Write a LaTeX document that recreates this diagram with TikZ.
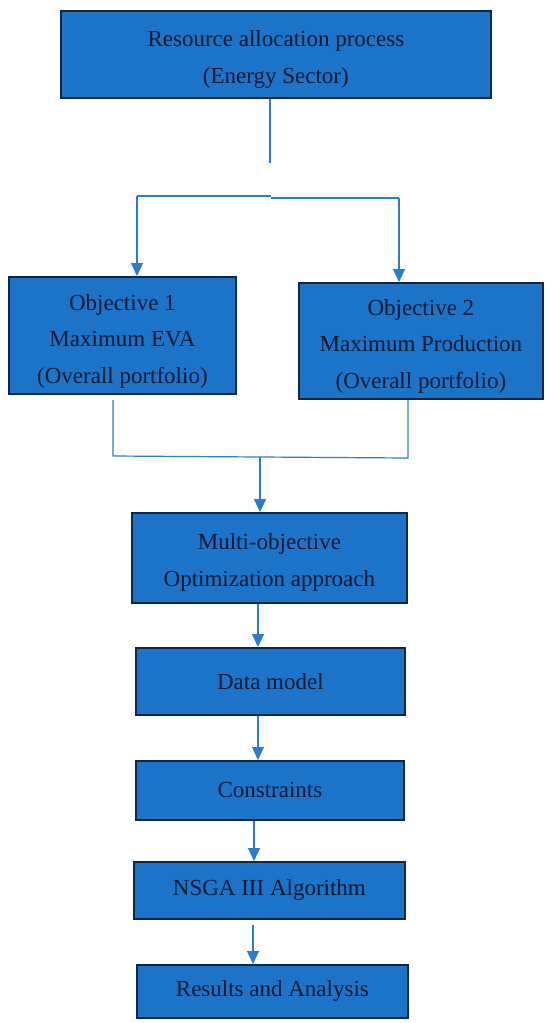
\documentclass[tikz,border=0pt]{standalone}
\usepackage{fontspec}
\setmainfont{Liberation Serif}
\usetikzlibrary{arrows.meta}
\definecolor{boxfill}{HTML}{1B74C8}
\definecolor{boxedge}{HTML}{0F2744}
\definecolor{txt}{HTML}{0A1830}
\definecolor{wire}{HTML}{2B7BD0}
\newcommand{\tallrule}[1]{\rule{0pt}{#1}}
\tikzset{
  box/.style={draw=boxedge, line width=1.8pt, fill=boxfill, text=txt, align=center,
    font=\fontsize{23}{36.5}\selectfont, inner sep=0pt, anchor=north west},
  wireline/.style={draw=wire, line width=1.2pt},
  wirearrow/.style={wireline, -{Triangle[length=13pt,width=12pt]}},
}
\begin{document}
\begin{tikzpicture}[x=1pt,y=-1pt]
\useasboundingbox (0,0) rectangle (550,1023);
% boxes
\node[box, minimum width=430pt, minimum height=87pt] (top) at (60,10) {\tallrule{26pt}Resource allocation process\\(Energy Sector)};
\node[box, minimum width=227pt, minimum height=117pt] (o1) at (8,276) {\tallrule{28pt}Objective 1\\Maximum EVA\\(Overall portfolio)};
\node[box, minimum width=244pt, minimum height=116pt] (o2) at (298,282) {\tallrule{27pt}Objective 2\\Maximum Production\\(Overall portfolio)};
\node[box, minimum width=275pt, minimum height=90pt] (mo) at (131,512) {\tallrule{25pt}Multi-objective\\Optimization approach};
\node[box, minimum width=269pt, minimum height=67pt] (dm) at (135,647) {Data model};
\node[box, minimum width=268pt, minimum height=59pt] (cs) at (135,760) {Constraints};
\node[box, minimum width=271pt, minimum height=57pt] (ns) at (133,861) {NSGA III Algorithm};
\node[box, minimum width=271pt, minimum height=53pt] (ra) at (136,964) {Results and Analysis};
% split coordinates
\coordinate (t1) at (270,163);
\coordinate (sl) at (137,196);
\coordinate (sm) at (271,196);
\coordinate (sr) at (399,198);
\coordinate (b1) at (113,400);
\coordinate (b1e) at (113,456);
\coordinate (b2) at (408,400);
\coordinate (b2e) at (408,458);
\coordinate (bm) at (260,457);
\coordinate (x1) at (258,0);
\coordinate (x2) at (258,0);
\coordinate (x3) at (254,0);
\coordinate (x4) at (253,925);
% connectors
\draw[wireline] (top.south -| t1) -- (t1);
\draw[wireline] (sm) -- (sl);
\draw[wireline] (sm |- sr) -- (sr);
\draw[wirearrow] (sl) -- (sl |- o1.north);
\draw[wirearrow] (sr) -- (sr |- o2.north);
\draw[wireline] (b1) -- (b1e) -- (b2e) -- (b2);
\draw[wirearrow] (bm) -- (bm |- mo.north);
\draw[wirearrow] (mo.south -| x1) -- (dm.north -| x1);
\draw[wirearrow] (dm.south -| x2) -- (cs.north -| x2);
\draw[wirearrow] (cs.south -| x3) -- (ns.north -| x3);
\draw[wirearrow] (x4) -- (ra.north -| x4);
\end{tikzpicture}
\end{document}
